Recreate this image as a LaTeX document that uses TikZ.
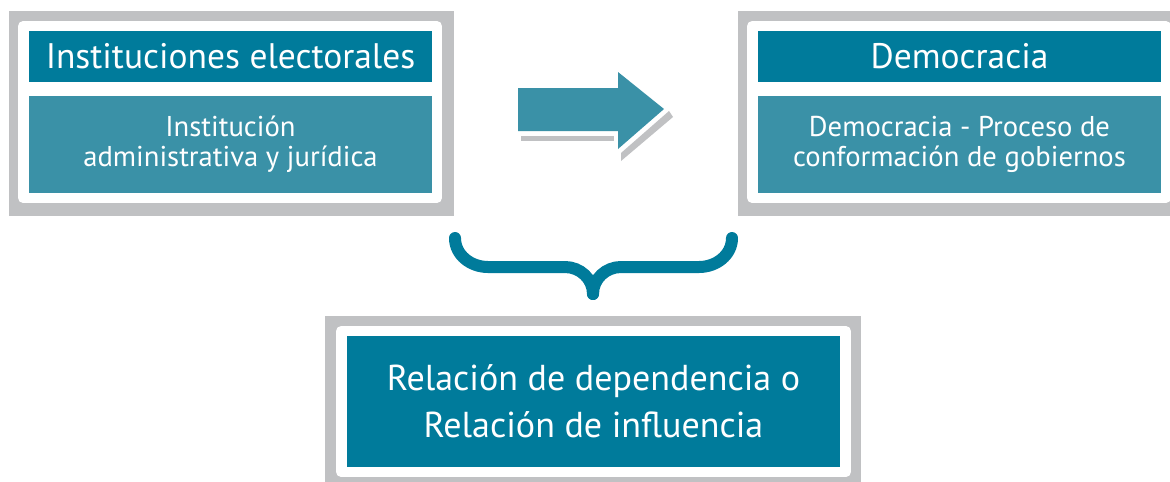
\documentclass[tikz,border=0pt]{standalone}
\usepackage{fontspec}
\setmainfont{PT Sans}
\usetikzlibrary{positioning}
\definecolor{tealdark}{HTML}{007B9B}
\definecolor{teallight}{HTML}{3A91A7}
\definecolor{framegray}{HTML}{C0C1C3}
\tikzset{
    frame/.style = {rectangle, fill=framegray, inner sep=0},
    sheet/.style = {rectangle, fill=white, rounded corners=0.1cm, inner sep=0},
    title/.style = {rectangle, fill=tealdark, text=white, inner sep=0,
        minimum width=8.06cm, minimum height=1.02cm,
        font=\fontsize{20.2}{24}\selectfont},
    body/.style = {rectangle, fill=teallight, text=white, inner sep=0, align=center,
        minimum width=8.06cm, minimum height=1.94cm,
        font=\fontsize{16.3}{17.2}\selectfont},
    result/.style = {rectangle, fill=tealdark, text=white, inner sep=0, align=center,
        minimum width=9.86cm, minimum height=2.62cm,
        font=\fontsize{20.5}{26.7}\selectfont},
    brace/.style = {draw=tealdark, line width=0.24cm, line cap=round}
}
\begin{document}
\begin{tikzpicture}[x=0.02cm,y=-0.02cm]
    \clip (0,0) rectangle (1170,481);
    \fill[white] (0,0) rectangle (1170,481);
    % left box
    \node[frame,minimum width=8.9cm,minimum height=4.1cm] (instframe) at (231.5,113.5) {};
    \node[sheet,minimum width=8.48cm,minimum height=3.64cm] (instsheet) at (230,112) {};
    \node[title] (insttitle) at (230.5,56.5) {Instituciones electorales};
    \node[body] (instbody) at (230.5,144.5) {Institución\\administrativa y jurídica};
    % right box
    \node[frame,minimum width=8.9cm,minimum height=4.1cm] (demframe) at (960.5,113.5) {};
    \node[sheet,minimum width=8.48cm,minimum height=3.64cm] (demsheet) at (959,112) {};
    \node[title] (demtitle) at (959.5,56.5) {Democracia};
    \node[body] (dembody) at (959.5,144.5) {Democracia - Proceso de\\conformación de gobiernos};
    % arrow
    \fill[framegray] (521,136) rectangle (614,141);
    \fill[framegray] (621,153) -- (669,111) -- (673,117) -- (621,161) -- cycle;
    \fill[teallight] (518,88) -- (618,88) -- (618,72) -- (664,109) -- (618,149) -- (618,131) -- (518,131) -- cycle;
    % bottom box
    \node[frame,minimum width=10.72cm,minimum height=3.42cm] (relframe) at (593,401.5) {};
    \node[sheet,minimum width=10.3cm,minimum height=3.02cm] (relsheet) at (593.5,401.5) {};
    \node[result] (relbox) at (593.5,401.5) {Relación de dependencia o\\Relación de influencia};
    % brace
    \coordinate (braceleft) at (455,238);
    \coordinate (braceright) at (732,238);
    \coordinate (bracetip) at (593,294);
    \draw[brace] (braceleft) to[out=-90,in=180] (488,267) -- (565,267) to[out=0,in=90] (bracetip);
    \draw[brace] (braceright) to[out=-90,in=0] (699,267) -- (621,267) to[out=180,in=90] (bracetip);
\end{tikzpicture}
\end{document}
